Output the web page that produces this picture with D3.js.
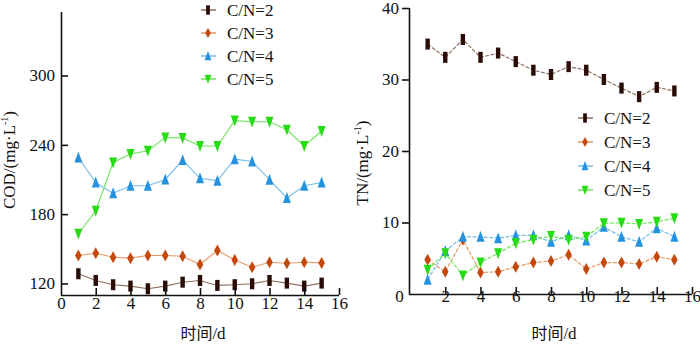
<!DOCTYPE html>
<html>
<head>
<meta charset="utf-8">
<script src="https://cdn.jsdelivr.net/npm/d3@7"></script>
<style>
  html, body { margin: 0; padding: 0; background: #fff; }
  svg { display: block; }
  .serif { font-family: "Liberation Serif", "Times New Roman", Times, Tinos, "DejaVu Serif", "Noto Serif", FreeSerif, "Noto Serif CJK SC", serif; }
</style>
</head>
<body>
<svg id="chart" width="700" height="345"></svg>
<script>
// Sampling days
const days = [1, 2, 3, 4, 5, 6, 7, 8, 9, 10, 11, 12, 13, 14, 15];

// Series names
const seriesNames = ["C/N=2", "C/N=3", "C/N=4", "C/N=5"];

// COD (mg/L) per C/N ratio
const codCN2 = [128.4, 122.6, 118.9, 117.7, 115.4, 117.7, 121.1, 122.6, 118.3, 118.9, 119.7, 122.6, 120.3, 117.7, 120.3];
const codCN3 = [144.2, 146.2, 142.7, 141.9, 144.2, 144.2, 143.6, 136.4, 148.5, 140.4, 134.0, 138.4, 137.5, 138.4, 137.8];
const codCN4 = [229.0, 207.4, 198.0, 204.6, 204.6, 210.0, 226.8, 211.0, 209.0, 227.6, 225.6, 209.8, 194.0, 204.6, 207.4];
const codCN5 = [163.0, 183.0, 224.7, 232.0, 234.8, 246.3, 246.0, 239.0, 239.0, 261.0, 260.0, 260.0, 253.0, 239.0, 252.0];

// TN (mg/L) per C/N ratio
const tnCN2 = [34.95, 33.1, 35.6, 33.1, 33.7, 32.5, 31.3, 30.7, 31.8, 31.3, 30.0, 28.8, 27.6, 28.9, 28.4];
const tnCN3 = [4.8, 3.1, 7.6, 3.0, 3.1, 3.8, 4.4, 4.6, 5.5, 3.5, 4.4, 4.4, 4.2, 5.2, 4.8];
const tnCN4 = [2.0, 6.0, 8.0, 8.0, 7.8, 8.2, 8.2, 7.3, 8.2, 7.5, 9.4, 8.0, 7.3, 9.2, 8.0];
const tnCN5 = [3.4, 5.7, 2.6, 4.4, 5.7, 7.1, 7.6, 8.1, 7.6, 8.0, 9.9, 9.95, 9.8, 10.1, 10.6];

// Axis ticks
const xTicks = [0, 2, 4, 6, 8, 10, 12, 14, 16];
const codTicks = [120, 180, 240, 300];
const tnTicks = [10, 20, 30, 40];

const CJK = "'Noto Sans CJK SC', sans-serif";

// Styling per series: marker colour, line colour, marker shape
const styles = [
  { mark: "#2a0c06", line: "#8f6f62", shape: "bar" },
  { mark: "#c4470c", line: "#e59a66", shape: "diamond" },
  { mark: "#2592e0", line: "#74bde9", shape: "up" },
  { mark: "#27dc14", line: "#6fe45c", shape: "down" }
];

const svg = d3.select("#chart");

function markerPath(shape, s) {
  switch (shape) {
    case "bar": return `M${-2.2*s},${-5.5*s}h${4.4*s}v${11*s}h${-4.4*s}Z`;
    case "diamond": return `M0,${-6*s}L${3.3*s},0L0,${6*s}L${-3.3*s},0Z`;
    case "up": return `M0,${-6*s}L${4*s},${5*s}L${-4*s},${5*s}Z`;
    case "down": return `M0,${6*s}L${4*s},${-5*s}L${-4*s},${-5*s}Z`;
  }
}

function drawPanel(opt) {
  const g = svg.append("g");
  const x = d3.scaleLinear().domain([0, 16]).range(opt.xRange);
  const y = d3.scaleLinear().domain(opt.yDomain).range(opt.yRange);
  const yBottom = opt.yRange[0];

  // series lines and markers
  opt.series.forEach((vals, i) => {
    const st = styles[i];
    const pts = days.map((d, k) => [x(d), y(vals[k])]);
    g.append("path")
      .attr("d", d3.line()(pts))
      .attr("fill", "none")
      .attr("stroke", st.line)
      .attr("stroke-width", opt.lineWidth)
      .attr("stroke-dasharray", opt.dash || null);
    g.selectAll(null).data(pts).enter().append("path")
      .attr("transform", p => `translate(${p[0]},${p[1]})`)
      .attr("d", markerPath(st.shape, 1))
      .attr("fill", st.mark);
  });

  // x axis (ticks point inward)
  const xAxis = d3.axisBottom(x).tickValues(xTicks).tickSize(-7).tickPadding(opt.xPad).tickSizeOuter(0);
  const gx = g.append("g").attr("transform", `translate(0,${yBottom})`).call(xAxis)
    .attr("font-family", null).attr("class", "serif");
  gx.select(".domain").attr("stroke", "#111").attr("stroke-width", 1.6)
    .attr("d", `M${opt.yAxisX},0.5H${opt.xRange[1]}`);
  gx.selectAll(".tick line").attr("stroke", "#111").attr("stroke-width", 1.6);
  gx.selectAll(".tick text").attr("font-size", 17).attr("fill", "#111")
    .attr("dy", "0.32em").attr("y", opt.xPad + 3);
  gx.selectAll(".tick").filter(d => d === 0).select("line").remove();
  if (opt.zeroShift) gx.selectAll(".tick").filter(d => d === 0).select("text").attr("dx", opt.zeroShift);

  // y axis
  const yAxis = d3.axisLeft(y).tickValues(opt.yTicks).tickSize(opt.yTickSize).tickPadding(opt.yPad).tickSizeOuter(0);
  const gy = g.append("g").attr("transform", `translate(${opt.yAxisX},0)`).call(yAxis)
    .attr("font-family", null).attr("class", "serif");
  gy.select(".domain").attr("stroke", "#111").attr("stroke-width", 1.6)
    .attr("d", `M0.5,${opt.yRange[1]}V${yBottom + 0.8}`);
  gy.selectAll(".tick line").attr("stroke", "#111").attr("stroke-width", 1.6);
  gy.selectAll(".tick text").attr("font-size", 17).attr("fill", "#111");

  // axis titles
  const xt = g.append("text").attr("class", "serif")
    .attr("x", opt.xTitleX).attr("y", 339)
    .attr("text-anchor", "middle").attr("font-size", 17).attr("fill", "#111");
  xt.append("tspan").attr("font-family", CJK).attr("font-size", 16).text("时间");
  xt.append("tspan").text("/d");

  const yt = g.append("text").attr("class", "serif")
    .attr("transform", `translate(${opt.yTitleX},${opt.yTitleY}) rotate(-90)`)
    .attr("text-anchor", "middle").attr("font-size", 17).attr("fill", "#111");
  yt.append("tspan").text(opt.yTitle + "/(mg·L");
  yt.append("tspan").attr("font-size", 10).attr("dy", -7).text("-1");
  yt.append("tspan").attr("dy", 7).text(")");

  // legend
  const lg = g.append("g").attr("transform", `translate(${opt.legendX},${opt.legendY})`);
  seriesNames.forEach((name, i) => {
    const st = styles[i];
    const row = lg.append("g").attr("transform", `translate(0,${i * opt.legendStep})`);
    row.append("line").attr("x1", -7).attr("x2", 8).attr("y1", 0).attr("y2", 0)
      .attr("stroke", st.line).attr("stroke-width", 1.5);
    row.append("path").attr("d", markerPath(st.shape, 0.85)).attr("fill", st.mark);
    row.append("text").attr("class", "serif").attr("x", 19).attr("y", 0).attr("dy", "0.35em")
      .attr("font-size", 17).attr("fill", "#111").text(name);
  });
}

// Left panel: COD
drawPanel({
  xRange: [61, 339], yAxisX: 61,
  yDomain: [110, 355], yRange: [295, 12],
  yTicks: codTicks, yTickSize: -7, yPad: 6,
  xPad: 6,
  series: [codCN2, codCN3, codCN4, codCN5],
  lineWidth: 1.1,
  yTitle: "COD", yTitleX: 15, yTitleY: 160,
  xTitleX: 203,
  legendX: 208, legendY: 10, legendStep: 23
});

// Right panel: TN
drawPanel({
  xRange: [410, 692], yAxisX: 409,
  yDomain: [0, 40], yRange: [294, 8],
  yTicks: tnTicks, yTickSize: 7, yPad: 3,
  xPad: 0,
  zeroShift: -11,
  series: [tnCN2, tnCN3, tnCN4, tnCN5],
  lineWidth: 1.2, dash: "4,1.5",
  yTitle: "TN", yTitleX: 368, yTitleY: 163,
  xTitleX: 554,
  legendX: 585, legendY: 118, legendStep: 24
});
</script>
</body>
</html>
